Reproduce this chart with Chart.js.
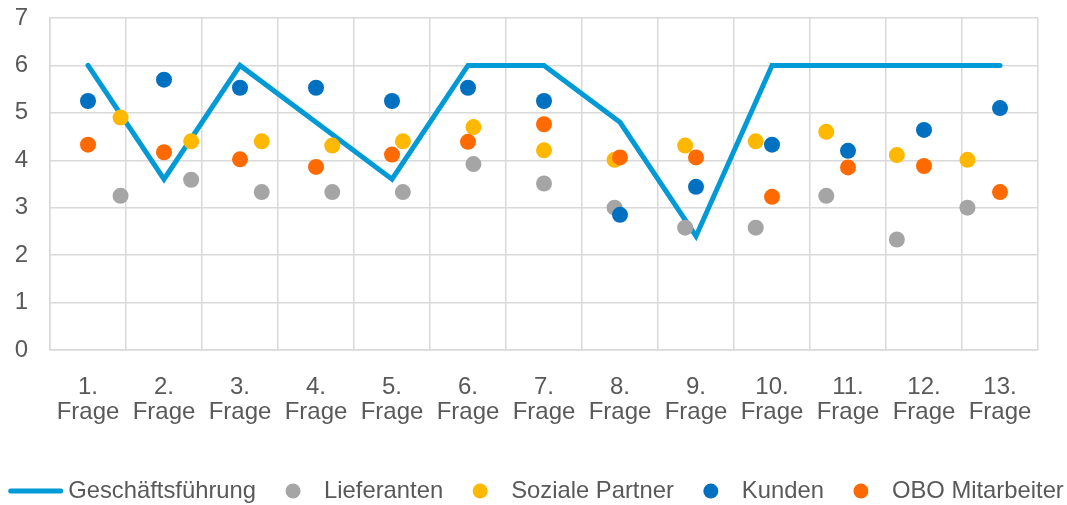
<!DOCTYPE html>
<html>
<head>
<meta charset="utf-8">
<script src="https://cdn.jsdelivr.net/npm/chart.js@4/dist/chart.umd.min.js"></script>
<style>
html,body{margin:0;padding:0;background:#fff;}
#wrap{width:1067px;height:505px;position:relative;}
</style>
</head>
<body>
<div id="wrap"><canvas id="c" width="1067" height="505"></canvas></div>
<script>
const categories = [["1.","Frage"],["2.","Frage"],["3.","Frage"],["4.","Frage"],["5.","Frage"],["6.","Frage"],["7.","Frage"],["8.","Frage"],["9.","Frage"],["10.","Frage"],["11.","Frage"],["12.","Frage"],["13.","Frage"]];
const questionNumbers = [1,2,3,4,5,6,7,8,9,10,11,12,13];
const seriesNames = ["Geschäftsführung","Lieferanten","Soziale Partner","Kunden","OBO Mitarbeiter"];
const geschaeftsfuehrung = [6, 3.6, 6, 4.8, 3.6, 6, 6, 4.8, 2.4, 6, 6, 6, 6];
const lieferanten = [3.25, 3.59, 3.33, 3.33, 3.33, 3.92, 3.51, 3.0, 2.58, 2.58, 3.25, 2.33, 3.0];
const sozialePartner = [4.9, 4.4, 4.4, 4.31, 4.4, 4.7, 4.21, 4.01, 4.31, 4.4, 4.6, 4.11, 4.01];
const kunden = [5.25, 5.7, 5.53, 5.53, 5.25, 5.53, 5.25, 2.85, 3.44, 4.33, 4.2, 4.64, 5.1];
const oboMitarbeiter = [4.33, 4.17, 4.02, 3.86, 4.12, 4.39, 4.76, 4.06, 4.06, 3.23, 3.85, 3.88, 3.33];
const yTicks = [0,1,2,3,4,5,6,7];

const colors = ["#009ad6", "#a5a5a5", "#ffb800", "#0070c0", "#ff6a00"];
const FONT = "'Liberation Sans', Arial, sans-serif";
const TEXT = "#595959";
const GRID = "#d9d9d9";

Chart.defaults.font.family = FONT;
Chart.defaults.font.size = 24;
Chart.defaults.color = TEXT;

const toXY = (vals) => vals.map((v, i) => ({x: questionNumbers[i], y: v}));

const legendPlugin = {
  id: 'customLegend',
  afterDraw(chart) {
    const ctx = chart.ctx;
    ctx.save();
    ctx.font = "23.8px " + FONT;
    ctx.textBaseline = 'middle';
    ctx.textAlign = 'left';
    const y = 491;
    const lineW = 55, lineGap = 5, afterText = 37, circleToText = 31;
    const widths = seriesNames.map(n => ctx.measureText(n).width);
    let total = lineW + lineGap + widths[0];
    for (let i = 1; i < seriesNames.length; i++) total += afterText + circleToText + widths[i];
    let x = 536 - total / 2;
    ctx.strokeStyle = colors[0];
    ctx.lineWidth = 5;
    ctx.lineCap = 'round';
    ctx.beginPath();
    ctx.moveTo(x + 2.5, y); ctx.lineTo(x + lineW - 2.5, y); ctx.stroke();
    x += lineW + lineGap;
    ctx.fillStyle = TEXT;
    ctx.fillText(seriesNames[0], x, y);
    x += widths[0];
    for (let i = 1; i < seriesNames.length; i++) {
      x += afterText;
      ctx.fillStyle = colors[i];
      ctx.beginPath(); ctx.arc(x, y, 7.5, 0, Math.PI * 2); ctx.fill();
      x += circleToText;
      ctx.fillStyle = TEXT;
      ctx.fillText(seriesNames[i], x, y);
      x += widths[i];
    }
    ctx.restore();
  }
};

const pointDs = (label, data, color, axis, order) => ({
  type: 'line', label, data, xAxisID: axis, showLine: false,
  pointRadius: 8, pointHoverRadius: 8, pointBorderWidth: 0,
  pointBackgroundColor: color, backgroundColor: color, borderColor: color, order
});

new Chart(document.getElementById('c'), {
  type: 'line',
  data: {
    labels: categories,
    datasets: [
      { label: seriesNames[0], data: geschaeftsfuehrung, xAxisID: 'x',
        borderColor: colors[0], backgroundColor: colors[0], borderWidth: 5,
        pointRadius: 0, tension: 0, borderCapStyle: 'round', borderJoinStyle: 'miter', order: 5 },
      pointDs(seriesNames[1], toXY(lieferanten), colors[1], 'x2', 4),
      pointDs(seriesNames[2], toXY(sozialePartner), colors[2], 'x2', 3),
      pointDs(seriesNames[3], kunden, colors[3], 'x', 2),
      pointDs(seriesNames[4], oboMitarbeiter, colors[4], 'x', 1)
    ]
  },
  options: {
    responsive: false,
    animation: false,
    layout: { autoPadding: false, padding: { top: 18, right: 29, left: 0, bottom: 0 } },
    plugins: { legend: { display: false }, tooltip: { enabled: false } },
    scales: {
      x: {
        type: 'category', offset: true,
        grid: { offset: true, color: GRID, lineWidth: 1.5, drawTicks: false },
        border: { color: GRID, width: 1.5 },
        ticks: { padding: 25, maxRotation: 0, autoSkip: false, font: { size: 24, lineHeight: 1.05 } },
        afterFit(s) { s.height = 155; s.paddingLeft = 0; s.paddingRight = 0; }
      },
      x2: { type: 'linear', min: 0, max: 14, display: false },
      y: {
        min: 0, max: 7,
        afterBuildTicks(s) { s.ticks = yTicks.map(v => ({ value: v })); },
        grid: { color: GRID, lineWidth: 1.5, drawTicks: false },
        border: { color: GRID, width: 1.5 },
        ticks: { padding: 22, font: { size: 24 } },
        afterFit(s) { s.width = 50; s.paddingTop = 0; s.paddingBottom = 0; }
      }
    }
  },
  plugins: [legendPlugin]
});
</script>
</body>
</html>
